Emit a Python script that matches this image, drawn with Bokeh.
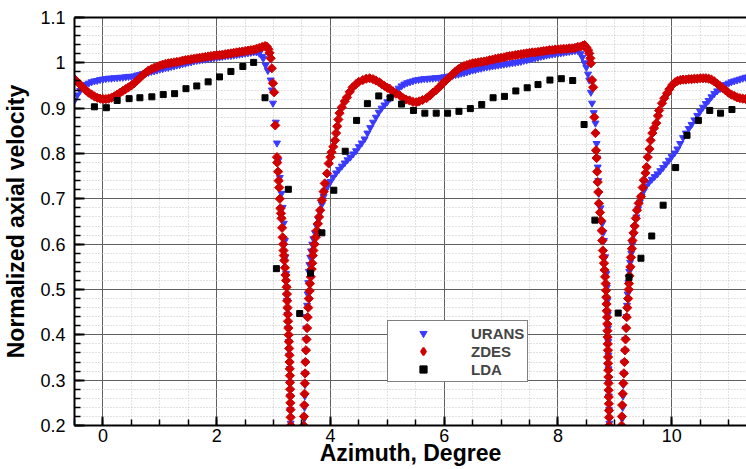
import math
from bokeh.plotting import figure
from bokeh.models import (Range1d, SingleIntervalTicker, FixedTicker, LinearAxis,
                          CustomJSTickFormatter, Legend, LegendItem)
from bokeh.embed import file_html
from bokeh.resources import INLINE

# ---------------- data (azimuth in degrees, normalized axial velocity) ----------------
urans_x = [
    -0.50, -0.45, -0.40, -0.35, -0.30, -0.25, -0.20, -0.15, -0.10, -0.05, 0.00, 0.05, 0.10, 0.15, 0.20,
    0.25, 0.30, 0.35, 0.40, 0.45, 0.50, 0.55, 0.60, 0.65, 0.70, 0.75, 0.80, 0.85, 0.90, 0.95, 1.00,
    1.05, 1.10, 1.15, 1.20, 1.25, 1.30, 1.35, 1.40, 1.45, 1.50, 1.55, 1.60, 1.65, 1.70, 1.75, 1.80,
    1.85, 1.90, 1.95, 2.00, 2.05, 2.10, 2.15, 2.20, 2.25, 2.30, 2.35, 2.40, 2.45, 2.50, 2.55, 2.60,
    2.65, 2.70, 2.75, 2.80,
    2.82, 2.86, 2.90, 2.95, 2.97, 2.99, 3.04, 3.06, 3.085, 3.11, 3.14, 3.16, 3.18, 3.20, 3.21, 3.22,
    3.23, 3.235, 3.245, 3.255, 3.265, 3.275, 3.28, 3.285, 3.29, 3.295, 3.30, 3.305,
    3.535, 3.54, 3.545, 3.55, 3.553, 3.556, 3.56, 3.565, 3.57, 3.575, 3.58, 3.59, 3.60, 3.61, 3.62,
    3.63, 3.645, 3.66, 3.68, 3.70, 3.73, 3.76, 3.79, 3.82, 3.85, 3.88, 3.91, 3.95, 4.00, 4.05,
    4.10, 4.15, 4.20, 4.25, 4.30, 4.35, 4.40, 4.45, 4.50, 4.55, 4.60, 4.65, 4.70, 4.75, 4.80, 4.85,
    4.90, 4.95, 5.00, 5.05, 5.10, 5.15, 5.20, 5.25, 5.30, 5.35, 5.40, 5.45, 5.50, 5.55, 5.60, 5.65,
    5.70, 5.75, 5.80, 5.85, 5.90, 5.95, 6.00,
    6.05, 6.10, 6.15, 6.20, 6.25, 6.30, 6.35, 6.40, 6.45, 6.50, 6.55, 6.60, 6.65, 6.70, 6.75, 6.80,
    6.85, 6.90, 6.95, 7.00, 7.05, 7.10, 7.15, 7.20, 7.25, 7.30, 7.35, 7.40, 7.45, 7.50, 7.55, 7.60,
    7.65, 7.70, 7.75, 7.80, 7.85, 7.90, 7.95, 8.00, 8.05, 8.10, 8.15, 8.20, 8.25, 8.30, 8.35,
    8.40, 8.43, 8.47, 8.50, 8.53, 8.55, 8.58, 8.60, 8.63, 8.66, 8.68, 8.69, 8.70, 8.71, 8.72, 8.75,
    8.78, 8.80, 8.81, 8.83, 8.85, 8.86, 8.87, 8.875, 8.88, 8.885, 8.888, 8.89, 8.893, 8.896, 8.90, 8.905,
    9.12, 9.13, 9.14, 9.145, 9.15, 9.158, 9.165, 9.175, 9.185, 9.195, 9.205, 9.215, 9.225, 9.24, 9.255,
    9.27, 9.29, 9.31, 9.33, 9.35, 9.38, 9.41, 9.44, 9.47, 9.51, 9.55,
    9.60, 9.65, 9.70, 9.75, 9.80, 9.85, 9.90, 9.95, 10.00, 10.05, 10.10, 10.15, 10.20, 10.25, 10.30,
    10.35, 10.40, 10.45, 10.50, 10.55, 10.60, 10.65, 10.70, 10.75, 10.80, 10.85, 10.90, 10.95, 11.00,
    11.05, 11.10, 11.15, 11.20, 11.25, 11.30, 11.35,
]
urans_y = [
    0.917, 0.929, 0.939, 0.947, 0.952, 0.955, 0.958, 0.960, 0.961, 0.963, 0.964, 0.965, 0.966, 0.966, 0.967,
    0.967, 0.968, 0.968, 0.969, 0.970, 0.970, 0.971, 0.973, 0.974, 0.976, 0.977, 0.979, 0.981, 0.982, 0.984, 0.986,
    0.987, 0.989, 0.990, 0.992, 0.993, 0.995, 0.996, 0.998, 0.999, 1.001, 1.002, 1.004, 1.005, 1.006, 1.007, 1.008,
    1.009, 1.010, 1.011, 1.012, 1.013, 1.014, 1.015, 1.016, 1.016, 1.017, 1.018, 1.019, 1.020, 1.021, 1.022, 1.023,
    1.024, 1.024, 1.021, 1.014,
    1.010, 0.995, 0.983, 0.962, 0.940, 0.911, 0.869, 0.823, 0.785, 0.747, 0.712, 0.681, 0.646, 0.608, 0.572, 0.535,
    0.505, 0.476, 0.445, 0.415, 0.385, 0.355, 0.325, 0.295, 0.265, 0.235, 0.205, 0.180,
    0.190, 0.215, 0.240, 0.265, 0.290, 0.315, 0.340, 0.365, 0.390, 0.415, 0.440, 0.465, 0.490, 0.515, 0.540,
    0.555, 0.571, 0.585, 0.600, 0.612, 0.625, 0.640, 0.655, 0.670, 0.688, 0.705, 0.718, 0.728, 0.738, 0.748,
    0.757, 0.765, 0.772, 0.779, 0.786, 0.792, 0.799, 0.806, 0.815, 0.823, 0.832, 0.845, 0.857, 0.869, 0.880, 0.891,
    0.900, 0.907, 0.914, 0.922, 0.930, 0.938, 0.944, 0.949, 0.953, 0.956, 0.958, 0.960, 0.962, 0.963, 0.964, 0.965,
    0.965, 0.966, 0.966, 0.967, 0.967, 0.968, 0.969,
    0.970, 0.971, 0.972, 0.974, 0.975, 0.977, 0.978, 0.980, 0.982, 0.984, 0.985, 0.987, 0.988, 0.990, 0.991, 0.992,
    0.993, 0.994, 0.995, 0.996, 0.997, 0.998, 0.999, 1.000, 1.001, 1.002, 1.003, 1.005, 1.006, 1.008, 1.009, 1.011,
    1.012, 1.014, 1.015, 1.017, 1.018, 1.019, 1.020, 1.021, 1.022, 1.023, 1.024, 1.025, 1.026, 1.027, 1.027,
    1.020, 1.012, 1.000, 0.990, 0.975, 0.962, 0.935, 0.911, 0.890, 0.867, 0.822, 0.790, 0.770, 0.740, 0.712, 0.680,
    0.646, 0.626, 0.608, 0.572, 0.535, 0.505, 0.476, 0.445, 0.415, 0.385, 0.355, 0.325, 0.295, 0.265, 0.235, 0.205,
    0.195, 0.215, 0.240, 0.265, 0.290, 0.315, 0.340, 0.365, 0.390, 0.415, 0.440, 0.465, 0.490, 0.515, 0.540,
    0.560, 0.580, 0.600, 0.620, 0.638, 0.660, 0.678, 0.693, 0.705, 0.718, 0.728,
    0.736, 0.743, 0.749, 0.755, 0.762, 0.769, 0.777, 0.785, 0.793, 0.801, 0.810, 0.822, 0.835, 0.845, 0.855,
    0.864, 0.874, 0.884, 0.893, 0.902, 0.910, 0.917, 0.925, 0.932, 0.938, 0.943, 0.948, 0.952, 0.955,
    0.958, 0.960, 0.962, 0.964, 0.966, 0.968, 0.969,
]

zdes_x = [
    -0.50, -0.45, -0.40, -0.35, -0.30, -0.25, -0.20, -0.15, -0.10, -0.05, 0.00, 0.05, 0.10, 0.15, 0.20,
    0.25, 0.30, 0.35, 0.40, 0.45, 0.50, 0.55, 0.60, 0.65, 0.70, 0.75, 0.80, 0.85, 0.90, 0.95, 1.00,
    1.05, 1.10, 1.15, 1.20, 1.25, 1.30, 1.35, 1.40, 1.45, 1.50, 1.55, 1.60, 1.65, 1.70, 1.75, 1.80,
    1.85, 1.90, 1.95, 2.00, 2.05, 2.10, 2.15, 2.20, 2.25, 2.30, 2.35, 2.40, 2.45, 2.50, 2.55, 2.60,
    2.65, 2.70, 2.75, 2.80, 2.85,
    2.88, 2.91, 2.93, 2.95, 2.97, 2.99, 3.01, 3.03, 3.06, 3.065, 3.08, 3.09, 3.10, 3.11, 3.12,
    3.13, 3.14, 3.15, 3.16, 3.17, 3.175, 3.18, 3.19, 3.20, 3.21, 3.22, 3.23, 3.235, 3.24, 3.245,
    3.25, 3.255, 3.26, 3.265, 3.27, 3.275, 3.28, 3.282, 3.285, 3.288, 3.29, 3.292, 3.294, 3.296, 3.298,
    3.30, 3.302,
    3.53, 3.535, 3.54, 3.545, 3.55, 3.555, 3.56, 3.57, 3.58, 3.59, 3.60, 3.61, 3.62, 3.635, 3.64,
    3.655, 3.67, 3.68, 3.69, 3.70, 3.72, 3.74, 3.76, 3.78, 3.80, 3.82, 3.85, 3.88, 3.90, 3.94,
    3.97, 4.00, 4.02, 4.05, 4.08, 4.10, 4.12, 4.14, 4.16, 4.20, 4.25, 4.29, 4.34, 4.39, 4.45,
    4.50, 4.57, 4.63, 4.69, 4.75, 4.80, 4.86, 4.90, 4.95, 5.00, 5.04, 5.10, 5.15, 5.22, 5.28,
    5.33, 5.39, 5.45, 5.51, 5.56, 5.62, 5.69, 5.75, 5.80, 5.86, 5.92, 5.97, 6.03, 6.09, 6.15,
    6.20, 6.25, 6.30, 6.35, 6.40, 6.45, 6.50, 6.55,
    6.60, 6.65, 6.70, 6.75, 6.80, 6.85, 6.90, 6.95, 7.00, 7.05, 7.10, 7.15, 7.20, 7.25, 7.30, 7.35,
    7.40, 7.45, 7.50, 7.55, 7.60, 7.65, 7.70, 7.75, 7.80, 7.85, 7.90, 7.95, 8.00, 8.05, 8.10, 8.15,
    8.20, 8.25, 8.30, 8.35,
    8.40, 8.44, 8.47, 8.50, 8.53, 8.55, 8.57, 8.58, 8.60, 8.62, 8.64, 8.66, 8.67, 8.68, 8.69,
    8.70, 8.71, 8.72, 8.74, 8.76, 8.77, 8.78, 8.79, 8.80, 8.81, 8.82, 8.83, 8.84, 8.845, 8.85,
    8.855, 8.86, 8.865, 8.868, 8.871, 8.874, 8.877, 8.88, 8.882, 8.884, 8.886, 8.888, 8.89, 8.892, 8.894,
    8.896, 8.898, 8.90, 8.902,
    9.12, 9.125, 9.13, 9.14, 9.15, 9.16, 9.17, 9.18, 9.19, 9.20, 9.21, 9.22, 9.235, 9.245, 9.25,
    9.26, 9.275, 9.285, 9.30, 9.31, 9.33, 9.35, 9.37, 9.39, 9.42, 9.46, 9.49, 9.51, 9.54, 9.56,
    9.58, 9.61, 9.63, 9.66, 9.69, 9.73, 9.76, 9.78, 9.83, 9.87, 9.92, 9.96, 10.01, 10.06,
    10.10, 10.15, 10.20, 10.25, 10.30, 10.35, 10.40, 10.45, 10.50, 10.55, 10.60, 10.65, 10.70, 10.75,
    10.80, 10.85, 10.90, 10.95, 11.00, 11.05, 11.10, 11.15, 11.20, 11.25, 11.30, 11.35,
]
zdes_y = [
    0.964, 0.958, 0.952, 0.945, 0.939, 0.934, 0.930, 0.926, 0.923, 0.921, 0.920, 0.920, 0.921, 0.923, 0.926,
    0.930, 0.934, 0.938, 0.942, 0.946, 0.950, 0.955, 0.961, 0.967, 0.973, 0.978, 0.983, 0.986, 0.989, 0.991, 0.994,
    0.996, 0.998, 0.999, 1.000, 1.001, 1.002, 1.003, 1.005, 1.006, 1.007, 1.008, 1.009, 1.010, 1.011, 1.012, 1.013,
    1.014, 1.015, 1.016, 1.017, 1.017, 1.018, 1.019, 1.020, 1.021, 1.022, 1.023, 1.024, 1.025, 1.026, 1.027, 1.028,
    1.029, 1.031, 1.033, 1.035, 1.037,
    1.036, 1.030, 1.022, 1.010, 0.988, 0.955, 0.935, 0.862, 0.792, 0.780, 0.760, 0.740, 0.725, 0.700, 0.679,
    0.668, 0.657, 0.636, 0.615, 0.600, 0.586, 0.575, 0.564, 0.548, 0.532, 0.520, 0.505, 0.490, 0.475, 0.460,
    0.445, 0.430, 0.415, 0.400, 0.385, 0.370, 0.355, 0.340, 0.325, 0.310, 0.295, 0.280, 0.265, 0.250, 0.235,
    0.218, 0.200,
    0.200, 0.220, 0.245, 0.270, 0.293, 0.315, 0.340, 0.366, 0.390, 0.415, 0.439, 0.460, 0.480, 0.497, 0.513,
    0.528, 0.545, 0.558, 0.575, 0.586, 0.600, 0.615, 0.630, 0.645, 0.660, 0.675, 0.697, 0.716, 0.734, 0.756,
    0.778, 0.792, 0.803, 0.815, 0.829, 0.845, 0.860, 0.875, 0.889, 0.902, 0.915, 0.924, 0.936, 0.946, 0.953,
    0.958, 0.962, 0.965, 0.966, 0.964, 0.961, 0.957, 0.953, 0.949, 0.945, 0.943, 0.937, 0.932, 0.928, 0.922,
    0.919, 0.917, 0.914, 0.913, 0.915, 0.918, 0.922, 0.928, 0.934, 0.940, 0.947, 0.954, 0.961, 0.968, 0.975,
    0.981, 0.986, 0.990, 0.993, 0.995, 0.997, 0.999, 1.000,
    1.001, 1.002, 1.003, 1.004, 1.006, 1.007, 1.009, 1.010, 1.011, 1.012, 1.014, 1.015, 1.016, 1.017, 1.018, 1.019,
    1.020, 1.021, 1.022, 1.023, 1.023, 1.024, 1.025, 1.026, 1.027, 1.028, 1.028, 1.029, 1.030, 1.030, 1.031, 1.031,
    1.032, 1.032, 1.033, 1.035,
    1.036, 1.038, 1.039, 1.034, 1.028, 1.021, 1.010, 0.999, 0.962, 0.946, 0.880, 0.845, 0.807, 0.790, 0.760,
    0.737, 0.715, 0.690, 0.670, 0.652, 0.630, 0.608, 0.586, 0.572, 0.558, 0.543, 0.528, 0.513, 0.498, 0.483,
    0.468, 0.453, 0.439, 0.424, 0.409, 0.395, 0.380, 0.366, 0.351, 0.337, 0.322, 0.307, 0.293, 0.278, 0.263,
    0.248, 0.233, 0.218, 0.200,
    0.200, 0.220, 0.245, 0.270, 0.293, 0.315, 0.340, 0.366, 0.390, 0.415, 0.439, 0.460, 0.480, 0.500, 0.513,
    0.530, 0.550, 0.571, 0.590, 0.608, 0.625, 0.640, 0.657, 0.675, 0.690, 0.705, 0.725, 0.741, 0.757, 0.770,
    0.792, 0.810, 0.829, 0.845, 0.856, 0.867, 0.883, 0.895, 0.911, 0.922, 0.933, 0.942, 0.951, 0.957,
    0.960, 0.962, 0.963, 0.963, 0.964, 0.964, 0.965, 0.965, 0.966, 0.966, 0.966, 0.965, 0.963, 0.959,
    0.954, 0.949, 0.944, 0.939, 0.934, 0.930, 0.927, 0.924, 0.922, 0.921, 0.920, 0.920,
]

lda_x = [-0.15, 0.06, 0.25, 0.46, 0.65, 0.86, 1.06, 1.26, 1.46, 1.65, 1.85, 2.05, 2.25, 2.46, 2.65,
         2.85, 3.05, 3.26, 3.46, 3.65, 3.85, 4.06, 4.26, 4.46, 4.65, 4.85, 5.05, 5.25, 5.46, 5.66,
         5.86, 6.06, 6.26, 6.46, 6.66, 6.86, 7.06, 7.26, 7.46, 7.65, 7.86, 8.06, 8.26, 8.46, 8.65,
         9.06, 9.25, 9.46, 9.65, 9.85, 10.07, 10.27, 10.47, 10.67, 10.86, 11.06]
lda_y = [0.903, 0.901, 0.917, 0.921, 0.923, 0.925, 0.930, 0.932, 0.943, 0.949, 0.958, 0.969, 0.981, 0.992, 1.001,
         0.923, 0.546, 0.721, 0.447, 0.536, 0.625, 0.719, 0.805, 0.873, 0.910, 0.927, 0.923, 0.909, 0.895, 0.889,
         0.889, 0.889, 0.893, 0.899, 0.908, 0.923, 0.926, 0.938, 0.945, 0.952, 0.962, 0.965, 0.961, 0.864, 0.653,
         0.448, 0.527, 0.569, 0.618, 0.686, 0.769, 0.840, 0.873, 0.895, 0.889, 0.897]

series_labels = ["URANS", "ZDES", "LDA"]
x_label = "Azimuth, Degree"
y_label = "Normalized axial velocity"

assert len(urans_x) == len(urans_y), (len(urans_x), len(urans_y))
assert len(zdes_x) == len(zdes_y), (len(zdes_x), len(zdes_y))
assert len(lda_x) == len(lda_y), (len(lda_x), len(lda_y))

# ---------------- styling ----------------
FONT = "Liberation Sans"
BLUE = "#3a3aff"
RED = "#d10000"

p = figure(width=746, height=469, output_backend="svg", toolbar_location=None,
           x_range=Range1d(-0.5, 11.316), y_range=Range1d(0.2, 1.1),
           min_border_left=74, min_border_right=0, min_border_top=17, min_border_bottom=44)
p.outline_line_color = None
p.background_fill_color = "white"
p.border_fill_color = "white"

xa = p.xaxis[0]
ya = p.yaxis[0]
xa.ticker = SingleIntervalTicker(interval=2, num_minor_ticks=4)
ya.ticker = SingleIntervalTicker(interval=0.1, num_minor_ticks=5)
ya.formatter = CustomJSTickFormatter(code="return String(Number(tick.toFixed(2)));")

for ax in (xa, ya):
    ax.axis_line_color = "black"
    ax.axis_line_width = 2
    ax.major_tick_in = 10
    ax.major_tick_out = 0
    ax.minor_tick_in = 6
    ax.minor_tick_out = 0
    ax.major_tick_line_width = 2
    ax.minor_tick_line_width = 1.5
    ax.major_tick_line_color = "black"
    ax.minor_tick_line_color = "black"
    ax.major_label_text_font = FONT
    ax.major_label_text_font_size = "18px"
    ax.major_label_text_color = "black"
    ax.axis_label_text_font = FONT
    ax.axis_label_text_font_size = "23px"
    ax.axis_label_text_font_style = "bold"
    ax.axis_label_text_color = "black"
xa.major_tick_in = 9
xa.major_label_standoff = 3
xa.axis_label = x_label
xa.axis_label_standoff = -5
ya.major_label_standoff = 9
ya.axis_label = y_label
ya.axis_label_standoff = 8

for g in (p.xgrid[0], p.ygrid[0]):
    g.grid_line_color = "#606060"
    g.grid_line_width = 1
    g.minor_grid_line_color = "#c4c4c4"
    g.minor_grid_line_dash = "1 2"
    g.minor_grid_line_width = 1

top = LinearAxis(ticker=FixedTicker(ticks=[]), axis_line_width=2, axis_line_color="black",
                 major_tick_out=0, major_tick_in=0, minor_tick_out=0, minor_tick_in=0,
                 major_tick_line_color=None, minor_tick_line_color=None,
                 major_label_text_font_size="0px")
p.add_layout(top, "above")

r_u = p.scatter(urans_x, urans_y, marker="inverted_triangle", size=7,
                fill_color=BLUE, line_color=BLUE, line_width=1)
r_z = p.scatter(zdes_x, zdes_y, marker="square", angle=math.pi / 4, size=6.5,
                fill_color=RED, line_color=RED, line_width=1)
r_l = p.scatter(lda_x, lda_y, marker="square", size=6,
                fill_color="black", line_color="black", line_width=1)
# hidden twin of the ZDES series, used only for its legend key (legend keys ignore marker angle)
r_z_key = p.scatter(zdes_x, zdes_y, marker="diamond", size=8, visible=False,
                    fill_color=RED, line_color=RED, line_width=2)

legend = Legend(items=[LegendItem(label=series_labels[0], renderers=[r_u]),
                       LegendItem(label=series_labels[1], renderers=[r_z_key]),
                       LegendItem(label=series_labels[2], renderers=[r_l])],
                location=(313, 43), orientation="vertical", padding=3, spacing=0, margin=0,
                glyph_width=64, glyph_height=18, label_height=18, label_standoff=16,
                label_text_font=FONT, label_text_font_size="15px", label_text_font_style="bold",
                border_line_color="black", border_line_width=1,
                background_fill_color="white", background_fill_alpha=1.0,
                inactive_fill_alpha=0.0, click_policy="none")
p.add_layout(legend)

open("out.html", "w").write(file_html(p, INLINE))
